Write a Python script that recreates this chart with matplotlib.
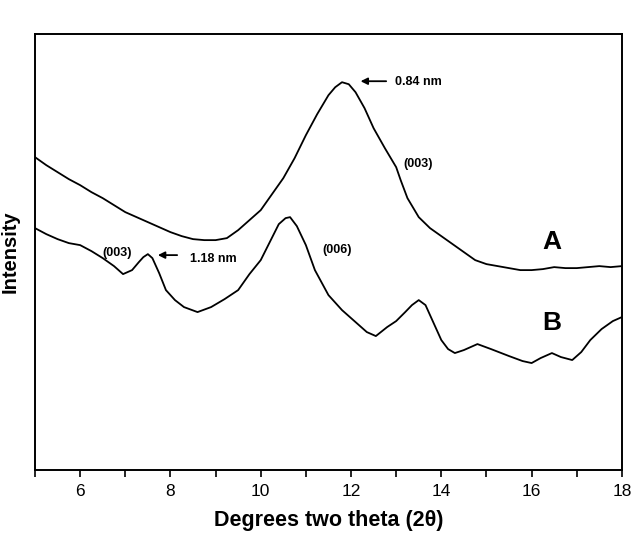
import matplotlib.pyplot as plt

plt.rcParams['font.family'] = ['Liberation Sans', 'DejaVu Sans']

# curve A (upper trace), intensity in arbitrary units
theta_a = [5.0, 5.25, 5.5, 5.75, 6.0, 6.25, 6.5, 6.75, 7.0, 7.25, 7.5, 7.75, 8.0, 8.25, 8.5,
           8.75, 9.0, 9.25, 9.5, 9.75, 10.0, 10.25, 10.5, 10.75, 11.0, 11.25, 11.5, 11.65,
           11.8, 11.95, 12.1, 12.3, 12.5, 12.75, 13.0, 13.1, 13.25, 13.5, 13.75, 14.0, 14.25,
           14.5, 14.75, 15.0, 15.25, 15.5, 15.75, 16.0, 16.25, 16.5, 16.75, 17.0, 17.25,
           17.5, 17.75, 18.0]
int_a = [313, 305, 298, 291, 285, 278, 272, 265, 258, 253, 248, 243, 238, 234, 231,
         230, 230, 232, 240, 250, 260, 276, 292, 312, 335, 356, 375, 383,
         388, 386, 378, 362, 342, 322, 303, 290, 272, 253, 242, 234, 226,
         218, 210, 206, 204, 202, 200, 200, 201, 203, 202, 202, 203, 204, 203, 204]

# curve B (lower trace)
theta_b = [5.0, 5.25, 5.5, 5.75, 6.0, 6.25, 6.5, 6.75, 6.95, 7.15, 7.3, 7.4, 7.5, 7.6,
           7.75, 7.9, 8.1, 8.3, 8.6, 8.9, 9.2, 9.5, 9.75, 10.0, 10.2, 10.4, 10.55, 10.65,
           10.8, 11.0, 11.2, 11.5, 11.8, 12.1, 12.35, 12.55, 12.8, 13.0, 13.2, 13.35, 13.5,
           13.65, 13.8, 14.0, 14.15, 14.3, 14.5, 14.8, 15.1, 15.5, 15.8, 16.0, 16.2, 16.45,
           16.65, 16.9, 17.1, 17.3, 17.55, 17.8, 18.0]
int_b = [242, 236, 231, 227, 225, 219, 212, 204, 196, 200, 208, 213, 216, 212,
         197, 180, 170, 163, 158, 163, 171, 180, 196, 210, 228, 246, 252, 253,
         244, 225, 200, 175, 160, 148, 138, 134, 143, 149, 158, 165, 170,
         165, 150, 130, 121, 117, 120, 126, 121, 114, 109, 107, 112, 117,
         113, 110, 118, 130, 141, 149, 153]

xticks = [6, 8, 10, 12, 14, 16, 18]

fig = plt.figure(figsize=(6.32, 5.35), dpi=100)
ax = fig.add_axes([0.0554, 0.1215, 0.9286, 0.8145])

ax.plot(theta_a, int_a, color='black', lw=1.3)
ax.plot(theta_b, int_b, color='black', lw=1.3)

ax.set_xlim(5, 18)
ax.set_ylim(0, 436)
ax.set_xticks(xticks)
ax.set_xticks(range(5, 19), minor=True)
ax.set_yticks([])
ax.tick_params(axis='x', which='both', direction='out', length=5, width=1.2,
               labelsize=12.5, pad=5)
for s in ax.spines.values():
    s.set_linewidth(1.4)

ax.set_xlabel('Degrees two theta (2θ)', fontsize=15.5, fontweight='bold', labelpad=8)
ax.set_ylabel('Intensity', fontsize=14.5, fontweight='bold', labelpad=11)

ax.text(16.45, 228, 'A', fontsize=19, fontweight='bold', ha='center', va='center')
ax.text(16.45, 147, 'B', fontsize=19, fontweight='bold', ha='center', va='center')

ax.annotate('', xy=(12.15, 389), xytext=(12.84, 389),
            arrowprops=dict(arrowstyle='-|>', color='black', lw=1.3, mutation_scale=10))
ax.text(12.97, 388, '0.84 nm', fontsize=9, fontweight='bold', va='center')
ax.text(13.15, 306, '(003)', fontsize=9, fontweight='bold', va='center')

ax.annotate('', xy=(7.66, 215), xytext=(8.21, 215),
            arrowprops=dict(arrowstyle='-|>', color='black', lw=1.3, mutation_scale=10))
ax.text(8.43, 211, '1.18 nm', fontsize=9, fontweight='bold', va='center')
ax.text(6.5, 217, '(003)', fontsize=9, fontweight='bold', va='center')
ax.text(11.36, 220, '(006)', fontsize=9, fontweight='bold', va='center')

fig.savefig('out.png', dpi=100)
